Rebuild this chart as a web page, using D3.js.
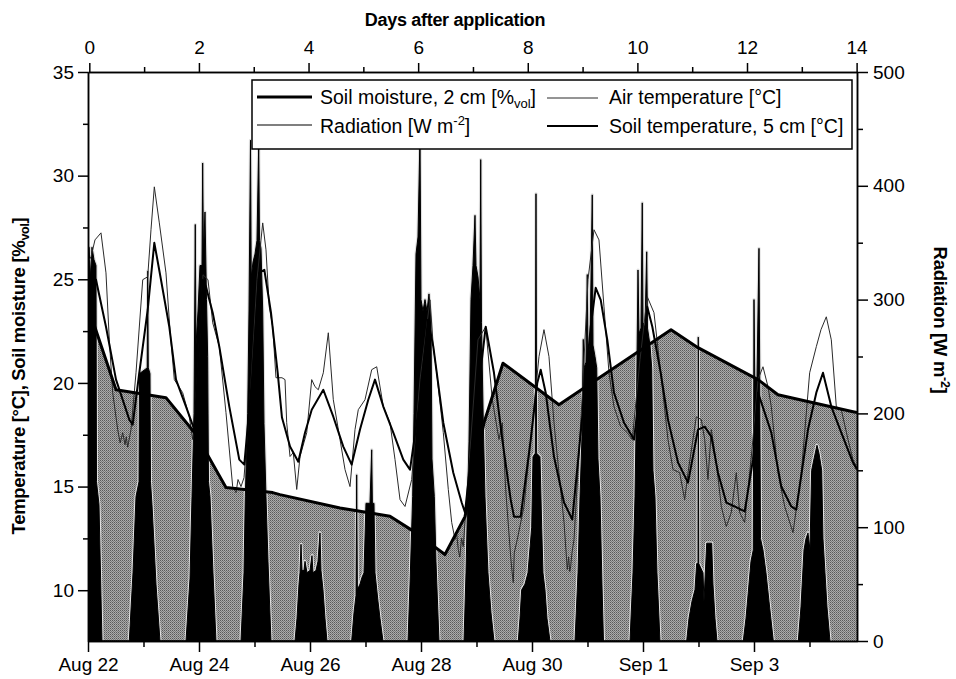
<!DOCTYPE html>
<html><head><meta charset="utf-8">
<script src="https://cdn.jsdelivr.net/npm/d3@7"></script>
<style>
body{margin:0;background:#fff}
text{font-family:Arial,"Liberation Sans",Helvetica,sans-serif;fill:#000}
</style>
</head><body>
<svg id="c" width="956" height="679"></svg>
<script>
// ---------------- DATA ----------------
// time axis: days since Aug 22 (bottom date axis)
const dateLabels = ["Aug 22","Aug 24","Aug 26","Aug 28","Aug 30","Sep 1","Sep 3"];
const dateTickDays = [0,2,4,6,8,10,12];
const dateMinorDays = [1,3,5,7,9,11,13];
const dayTicks = [0,2,4,6,8,10,12,14];
const dayMinor = [1,3,5,7,9,11,13];
const tempTicks = [10,15,20,25,30,35];
const tempMinor = [12.5,17.5,22.5,27.5,32.5];
const radTicks = [0,100,200,300,400,500];
const radMinor = [50,150,250,350,450];

// soil moisture, 2 cm [%vol]
const soilMoisture = [[0,23.67],[0.505,19.67],[1.405,19.29],[1.946,17.51],[2.486,14.95],[3.328,14.71],[3.459,14.61],[4.541,13.97],[5.441,13.57],[5.861,12.85],[6.432,11.72],[6.793,13.55],[7.135,18.08],[7.477,20.95],[8.486,18.95],[10.505,22.57],[10.991,21.70],[12.072,20.16],[12.432,19.43],[13.784,18.61],[13.856,18.57]];

// soil temperature, 5 cm [°C]
const soilTemp = [[0,25.12],[0.144,24.98],[0.324,22.71],[0.505,20.16],[0.744,18.23],[0.805,17.99],[0.924,20.49],[1.076,23.53],[1.195,26.76],[1.315,24.98],[1.465,22.71],[1.586,20.16],[1.766,18.86],[1.915,17.75],[1.982,20.64],[2.067,24.98],[2.126,24.64],[2.247,23.39],[2.366,21.75],[2.546,18.86],[2.726,16.30],[2.816,16.06],[2.955,20.16],[3.086,25.31],[3.177,25.46],[3.297,23.39],[3.418,20.49],[3.495,18.33],[3.640,16.93],[3.789,16.20],[3.910,17.60],[4.031,18.71],[4.240,19.67],[4.420,18.37],[4.600,16.93],[4.751,16.06],[4.901,17.75],[5.050,19.19],[5.171,20.16],[5.321,18.86],[5.501,17.60],[5.681,16.30],[5.802,15.82],[5.982,19.19],[6.126,23.05],[6.222,21.75],[6.402,18.08],[6.582,15.67],[6.733,14.23],[6.793,13.75],[6.973,18.23],[7.166,22.71],[7.315,20.49],[7.465,17.27],[7.616,14.37],[7.676,13.55],[7.796,13.55],[7.977,17.27],[8.095,20.00],[8.157,20.64],[8.247,19.53],[8.396,16.45],[8.577,14.23],[8.726,13.41],[8.901,18.23],[9.058,22.71],[9.148,24.59],[9.238,24.01],[9.357,22.08],[9.477,19.53],[9.658,18.08],[9.838,17.27],[9.964,20.16],[10.077,23.67],[10.168,22.71],[10.319,20.49],[10.450,18.23],[10.631,16.16],[10.811,15.19],[10.991,17.75],[11.112,17.89],[11.231,17.41],[11.351,15.67],[11.501,14.23],[11.652,14.04],[11.832,13.80],[11.982,16.30],[12.072,19.53],[12.193,18.57],[12.312,17.60],[12.492,15.00],[12.672,14.04],[12.762,13.89],[12.973,17.75],[13.123,19.53],[13.243,20.49],[13.393,18.86],[13.573,17.60],[13.784,16.16],[13.856,15.82]];

// air temperature [°C]
const airTemp = [[0,25.84],[0.054,26.08],[0.126,26.90],[0.234,27.24],[0.324,25.31],[0.384,22.08],[0.445,19.53],[0.535,17.75],[0.58,17.1],[0.625,17.60],[0.667,17.02],[0.69,17.4],[0.715,16.9],[0.775,17.75],[0.865,20.49],[0.986,24.98],[1.076,25.12],[1.135,27.39],[1.195,29.46],[1.285,27.72],[1.405,25.31],[1.477,22.57],[1.555,20.16],[1.706,19.53],[1.825,18.37],[1.886,17.27],[1.982,20.64],[2.072,25.22],[2.162,24.98],[2.247,22.90],[2.366,21.75],[2.486,18.57],[2.607,15.00],[2.667,14.71],[2.703,15.34],[2.757,15.00],[2.811,15.43],[2.919,19.19],[3.045,24.98],[3.148,27.72],[3.207,26.42],[3.266,23.67],[3.328,22.71],[3.387,20.25],[3.495,20.25],[3.550,20.16],[3.580,18.08],[3.640,16.45],[3.699,16.64],[3.761,14.86],[3.820,16.45],[3.941,17.60],[4.031,20.16],[4.090,19.82],[4.150,19.67],[4.240,20.49],[4.330,22.42],[4.420,19.19],[4.541,17.27],[4.631,15.82],[4.721,15.00],[4.811,17.75],[4.870,18.71],[4.991,19.19],[5.112,20.64],[5.202,20.78],[5.321,18.86],[5.441,18.08],[5.532,16.30],[5.622,14.37],[5.712,14.04],[5.832,15.34],[5.982,20.16],[6.162,24.01],[6.222,21.75],[6.283,20.49],[6.402,17.60],[6.492,14.86],[6.553,13.27],[6.613,12.45],[6.64,12.8],[6.672,11.96],[6.70,11.6],[6.73,12.5],[6.762,12.11],[6.883,16.78],[7.027,22.08],[7.166,22.71],[7.285,19.19],[7.405,17.27],[7.465,18.08],[7.526,14.86],[7.616,11.63],[7.64,10.9],[7.663,10.37],[7.68,11.8],[7.735,12.45],[7.856,14.04],[7.977,17.27],[8.126,21.27],[8.216,22.57],[8.306,21.27],[8.396,18.08],[8.486,15.67],[8.577,13.27],[8.636,11.00],[8.66,11.6],[8.68,10.9],[8.697,11.14],[8.72,11.8],[8.757,12.45],[8.901,19.19],[9.009,24.98],[9.117,27.39],[9.207,26.90],[9.297,23.67],[9.387,20.49],[9.477,18.86],[9.598,17.89],[9.717,17.60],[9.807,17.27],[9.946,21.12],[10.077,24.16],[10.198,23.39],[10.319,20.49],[10.450,17.27],[10.541,15.82],[10.661,15.67],[10.751,14.37],[10.811,15.67],[10.961,18.37],[11.051,18.23],[11.112,17.27],[11.171,15.34],[11.231,17.75],[11.321,16.16],[11.411,14.04],[11.501,13.07],[11.591,13.75],[11.681,15.67],[11.742,13.75],[11.832,13.27],[11.964,16.78],[12.072,20.16],[12.162,20.78],[12.252,19.82],[12.312,18.86],[12.432,15.67],[12.553,14.04],[12.703,12.78],[12.853,15.67],[13.003,20.49],[13.123,21.75],[13.207,22.57],[13.303,23.19],[13.393,22.08],[13.483,18.86],[13.573,18.71],[13.694,17.27],[13.784,16.30],[13.856,15.90]];

// radiation [W m-2]
const radiation = [
[0.000,300],[0.018,346],[0.045,320],[0.072,346],[0.108,335],[0.144,330],[0.153,140],[0.198,120],[0.234,40],[0.252,0],
[0.744,0],[0.811,60],[0.865,127],[0.919,140],[0.928,235],[1.067,240],[1.076,325],[1.086,240],[1.117,235],[1.126,140],[1.153,120],[1.225,50],[1.297,0],
[1.766,0],[1.838,55],[1.874,127],[1.910,200],[1.933,366],[1.946,260],[1.982,290],[2.018,330],[2.054,330],[2.066,420],[2.081,340],[2.108,377],[2.135,300],[2.156,250],[2.171,140],[2.198,127],[2.252,60],[2.306,0],
[2.757,0],[2.811,60],[2.834,127],[2.877,200],[2.901,290],[2.928,440],[2.941,320],[2.973,333],[3.009,340],[3.045,352],[3.076,437],[3.090,352],[3.117,345],[3.148,290],[3.171,191],[3.207,127],[3.243,70],[3.297,0],
[3.730,0],[3.766,20],[3.802,50],[3.820,60],[3.838,85],[3.856,62],[3.892,62],[3.910,70],[3.946,60],[4.000,62],[4.036,75],[4.054,60],[4.108,62],[4.144,70],[4.180,95],[4.198,62],[4.234,45],[4.270,20],[4.306,0],
[4.751,0],[4.793,25],[4.829,40],[4.841,146],[4.854,45],[4.901,50],[4.937,56],[4.973,60],[5.009,121],[5.081,121],[5.112,168],[5.124,121],[5.153,121],[5.171,60],[5.225,35],[5.261,20],[5.315,0],
[5.766,0],[5.802,50],[5.850,127],[5.874,200],[5.910,340],[5.946,355],[5.982,445],[6.000,300],[6.036,290],[6.072,300],[6.108,290],[6.144,305],[6.180,280],[6.198,160],[6.240,127],[6.270,70],[6.324,0],
[6.775,0],[6.811,60],[6.841,127],[6.865,175],[6.901,300],[6.937,330],[6.973,374],[6.991,330],[7.027,320],[7.063,300],[7.076,423],[7.090,280],[7.123,190],[7.153,127],[7.207,60],[7.261,25],[7.315,0],
[7.753,0],[7.784,20],[7.814,45],[7.874,50],[7.928,60],[7.995,100],[8.018,162],[8.059,165],[8.072,393],[8.084,165],[8.144,162],[8.175,100],[8.198,60],[8.234,45],[8.270,20],[8.324,0],
[8.775,0],[8.829,60],[8.865,127],[8.901,180],[8.924,265],[8.937,240],[8.973,245],[8.996,322],[9.009,250],[9.045,260],[9.086,392],[9.099,260],[9.135,250],[9.166,240],[9.189,160],[9.225,127],[9.261,50],[9.288,0],
[9.766,0],[9.820,60],[9.856,127],[9.886,220],[9.910,326],[9.928,270],[9.964,275],[9.987,385],[10.000,280],[10.036,275],[10.067,342],[10.081,275],[10.126,260],[10.157,240],[10.180,150],[10.216,127],[10.252,60],[10.306,0],
[10.787,0],[10.829,20],[10.883,35],[10.937,45],[10.967,68],[10.991,68],[10.996,267],[11.005,68],[11.081,60],[11.099,35],[11.148,86],[11.238,86],[11.261,50],[11.297,20],[11.333,0],
[11.807,0],[11.856,20],[11.910,50],[11.946,70],[11.987,80],[12.000,300],[12.014,230],[12.054,230],[12.090,345],[12.104,230],[12.117,90],[12.162,80],[12.216,60],[12.270,35],[12.348,0],
[12.798,0],[12.847,30],[12.901,80],[12.937,90],[12.973,95],[13.009,80],[13.039,150],[13.081,160],[13.135,172],[13.171,165],[13.220,150],[13.243,90],[13.279,60],[13.315,30],[13.369,0]
];

// ---------------- LAYOUT ----------------
const L=88, R=857, T=72, B=641;
const svg = d3.select("#c");
const x = d3.scaleLinear().domain([0,13.856]).range([L,R]);          // date axis
const xTop = d3.scaleLinear().domain([-0.024,14.007]).range([L,R]);  // days after application
const yT = d3.scaleLinear().domain([7.55,35]).range([B,T]);
const yR = d3.scaleLinear().domain([0,500]).range([B,T]);

const defs = svg.append("defs");
const pat = defs.append("pattern").attr("id","stip").attr("width",2).attr("height",2).attr("patternUnits","userSpaceOnUse");
pat.append("rect").attr("width",2).attr("height",2).attr("fill","#ababab");
pat.append("rect").attr("x",0).attr("y",0).attr("width",1).attr("height",1).attr("fill","#5a5a5a");
pat.append("rect").attr("x",1).attr("y",1).attr("width",1).attr("height",1).attr("fill","#7a7a7a");
defs.append("clipPath").attr("id","clip").append("rect").attr("x",L).attr("y",T).attr("width",R-L).attr("height",B-T);

const g = svg.append("g").attr("clip-path","url(#clip)");

// soil moisture area
g.append("path").datum(soilMoisture)
  .attr("d", d3.area().x(d=>x(d[0])).y0(B).y1(d=>yT(d[1])))
  .attr("fill","url(#stip)");

// radiation: split into daily humps for the light rim
const humps = [];
let cur = [];
radiation.forEach(p=>{
  cur.push(p);
  if(p[1]===0 && cur.length>1){ humps.push(cur); cur=[]; }
});
if(cur.length>1) humps.push(cur);
const rimLine = d3.line().x(d=>x(d[0])).y(d=>yR(d[1]));
g.selectAll("path.rim").data(humps).join("path").attr("class","rim")
  .attr("d",rimLine).attr("fill","none").attr("stroke","#dedede").attr("stroke-width",3.2).attr("stroke-linejoin","round");
const radArea = d3.area().x(d=>x(d[0])).y0(B).y1(d=>yR(d[1]));
g.append("path").datum(radiation).attr("d",radArea)
  .attr("fill","#000").attr("stroke","#000").attr("stroke-width",1);

const ln = d3.line().x(d=>x(d[0])).y(d=>yT(d[1]));
g.append("path").datum(airTemp).attr("d",ln).attr("fill","none").attr("stroke","#2a2a2a").attr("stroke-width",1);
g.append("path").datum(soilTemp).attr("d",ln).attr("fill","none").attr("stroke","#000").attr("stroke-width",2).attr("stroke-linejoin","round");
g.append("path").datum(soilMoisture).attr("d",ln).attr("fill","none").attr("stroke","#000").attr("stroke-width",3).attr("stroke-linejoin","round");

// legend
const lg = svg.append("g");
lg.append("rect").attr("x",252).attr("y",80).attr("width",600).attr("height",69)
  .attr("fill","#fff").attr("stroke","#000").attr("stroke-width",1.5);
const legendItems = [
  {x1:257,x2:312,y:97,w:3,c:"#000",tx:320,ty:104,t:["Soil moisture, 2 cm [%","vol","]"],sub:true},
  {x1:547,x2:598,y:98,w:1,c:"#2a2a2a",tx:609,ty:104,t:["Air temperature [°C]"]},
  {x1:257,x2:312,y:125,w:1.2,c:"#000",tx:320,ty:133,t:["Radiation [W m","-2","]"],sup:true},
  {x1:547,x2:598,y:126,w:2,c:"#000",tx:609,ty:133,t:["Soil temperature, 5 cm [°C]"]}
];
legendItems.forEach(it=>{
  lg.append("line").attr("x1",it.x1).attr("x2",it.x2).attr("y1",it.y).attr("y2",it.y)
    .attr("stroke",it.c).attr("stroke-width",it.w);
  const t = lg.append("text").attr("x",it.tx).attr("y",it.ty).attr("font-size",19.5);
  t.append("tspan").text(it.t[0]);
  if(it.t.length>1){
    t.append("tspan").attr("font-size",13).attr("dy", it.sub?4:-8).text(it.t[1]);
    t.append("tspan").attr("dy", it.sub?-4:8).text(it.t[2]);
  }
});

// axes
function styleAxis(sel){
  sel.selectAll("path.domain").attr("stroke","#000").attr("stroke-width",1.5);
  sel.selectAll(".tick line").attr("stroke","#000").attr("stroke-width",1.5);
  sel.selectAll(".tick text").attr("font-size",19).attr("fill","#000")
     .attr("font-family","Arial, 'Liberation Sans', Helvetica, sans-serif");
}
const gb = svg.append("g").attr("transform",`translate(0,${B})`)
  .call(d3.axisBottom(x).tickValues(dateTickDays).tickFormat((d,i)=>dateLabels[i]).tickSize(11).tickSizeOuter(0).tickPadding(6));
styleAxis(gb);
const gbm = svg.append("g").attr("transform",`translate(0,${B})`)
  .call(d3.axisBottom(x).tickValues(dateMinorDays).tickFormat("").tickSize(6).tickSizeOuter(0));
styleAxis(gbm);

const gt = svg.append("g").attr("transform",`translate(0,${T})`)
  .call(d3.axisTop(xTop).tickValues(dayTicks).tickFormat(d3.format("d")).tickSize(9).tickSizeOuter(0).tickPadding(9));
styleAxis(gt);
const gtm = svg.append("g").attr("transform",`translate(0,${T})`)
  .call(d3.axisTop(xTop).tickValues(dayMinor).tickFormat("").tickSize(5).tickSizeOuter(0));
styleAxis(gtm);

const gl = svg.append("g").attr("transform",`translate(${L},0)`)
  .call(d3.axisLeft(yT).tickValues(tempTicks).tickFormat(d3.format("d")).tickSize(10).tickSizeOuter(0).tickPadding(4));
styleAxis(gl);
const glm = svg.append("g").attr("transform",`translate(${L},0)`)
  .call(d3.axisLeft(yT).tickValues(tempMinor).tickFormat("").tickSize(5).tickSizeOuter(0));
styleAxis(glm);

const gr = svg.append("g").attr("transform",`translate(${R},0)`)
  .call(d3.axisRight(yR).tickValues(radTicks).tickFormat(d3.format("d")).tickSize(11).tickSizeOuter(0).tickPadding(5));
styleAxis(gr);
const grm = svg.append("g").attr("transform",`translate(${R},0)`)
  .call(d3.axisRight(yR).tickValues(radMinor).tickFormat("").tickSize(6).tickSizeOuter(0));
styleAxis(grm);

// titles
svg.append("text").attr("x",455).attr("y",26).attr("text-anchor","middle")
  .attr("font-size",18).attr("font-weight","bold").attr("letter-spacing",-0.3).text("Days after application");

const lt = svg.append("text").attr("transform","translate(25,376) rotate(-90)").attr("text-anchor","middle")
  .attr("font-size",18.5).attr("font-weight","bold").attr("letter-spacing",-0.3);
lt.append("tspan").text("Temperature [°C], Soil moisture [%");
lt.append("tspan").attr("font-size",12.5).attr("dy",4).text("vol");
lt.append("tspan").attr("dy",-4).text("]");

const rt = svg.append("text").attr("transform","translate(934,320) rotate(90)").attr("text-anchor","middle")
  .attr("font-size",18.5).attr("font-weight","bold").attr("letter-spacing",-0.3);
rt.append("tspan").text("Radiation [W m");
rt.append("tspan").attr("font-size",12.5).attr("dy",-7).text("-2");
rt.append("tspan").attr("dy",7).text("]");
</script>
</body></html>
